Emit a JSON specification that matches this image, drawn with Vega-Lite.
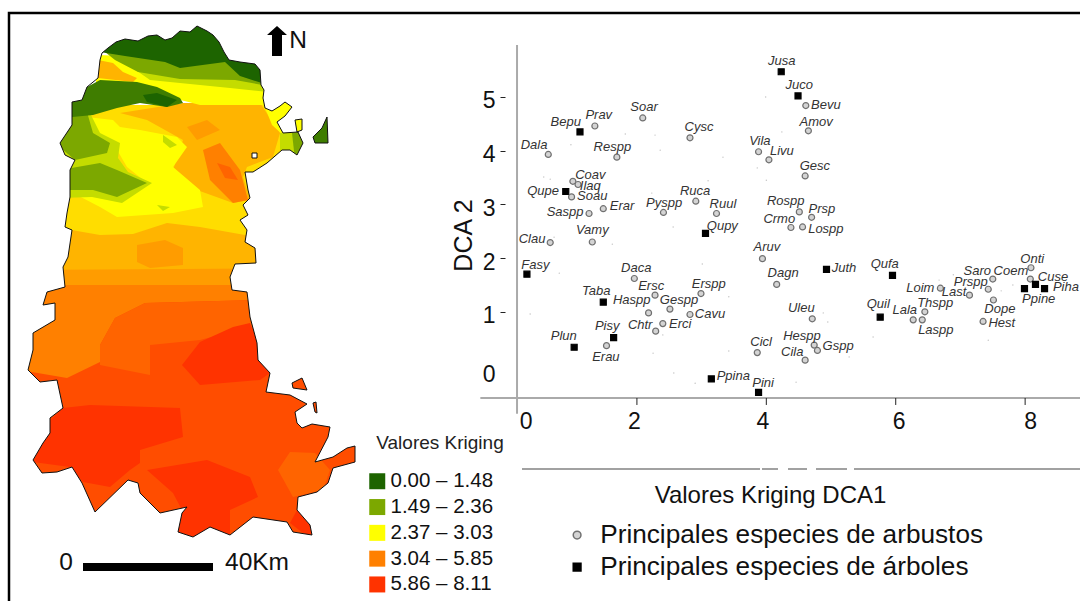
{
"$schema":"https://vega.github.io/schema/vega-lite/v6.json",
"width":573,"height":353,
"autosize":{"type":"none"},
"padding":{"left":507,"top":45,"right":0,"bottom":203},
"background":"white",
"config":{"font":"Liberation Sans","view":{"stroke":null},"axis":{"grid":false}},
"datasets":{
"zonas":[
{"type":"Feature","properties":{"clase":"ambar"},"geometry":{"type":"Polygon","coordinates":[[[20,200],[362,200],[362,290],[20,290],[20,200]]]}},
{"type":"Feature","properties":{"clase":"ambar oscuro"},"geometry":{"type":"Polygon","coordinates":[[[20,270],[362,268],[362,295],[20,295],[20,270]]]}},
{"type":"Feature","properties":{"clase":"ambar oscuro"},"geometry":{"type":"Polygon","coordinates":[[[137,245],[165,240],[183,248],[183,265],[150,268],[137,262],[137,245]]]}},
{"type":"Feature","properties":{"clase":"rojo naranja"},"geometry":{"type":"Polygon","coordinates":[[[20,292],[362,292],[362,601],[20,601],[20,292]]]}},
{"type":"Feature","properties":{"clase":"3.04 – 5.85"},"geometry":{"type":"Polygon","coordinates":[[[20,285],[255,285],[255,300],[145,303],[115,318],[100,345],[100,362],[67,378],[20,370],[20,285]]]}},
{"type":"Feature","properties":{"clase":"naranja rojizo"},"geometry":{"type":"Polygon","coordinates":[[[145,303],[255,300],[258,325],[200,340],[150,345],[150,375],[100,365],[100,345],[115,318],[145,303]]]}},
{"type":"Feature","properties":{"clase":"5.86 – 8.11"},"geometry":{"type":"Polygon","coordinates":[[[182,365],[200,342],[233,327],[250,323],[260,347],[270,373],[260,380],[200,385],[182,365]]]}},
{"type":"Feature","properties":{"clase":"5.86 – 8.11"},"geometry":{"type":"Polygon","coordinates":[[[50,420],[63,408],[90,405],[180,408],[183,437],[140,450],[140,463],[130,470],[110,487],[83,482],[70,467],[33,462],[50,420]]]}},
{"type":"Feature","properties":{"clase":"5.86 – 8.11"},"geometry":{"type":"Polygon","coordinates":[[[147,470],[207,460],[250,477],[258,497],[230,510],[230,540],[170,540],[182,510],[173,493],[147,470]]]}},
{"type":"Feature","properties":{"clase":"5.86 – 8.11"},"geometry":{"type":"Polygon","coordinates":[[[290,523],[312,540],[315,525],[297,510],[290,523]]]}},
{"type":"Feature","properties":{"clase":"naranja rojizo"},"geometry":{"type":"Polygon","coordinates":[[[278,470],[290,452],[315,453],[330,470],[323,490],[293,497],[278,470]]]}},
{"type":"Feature","properties":{"clase":"oro"},"geometry":{"type":"Polygon","coordinates":[[[20,105],[310,105],[310,235],[245,235],[200,227],[167,223],[133,234],[100,235],[60,228],[20,228],[20,105]]]}},
{"type":"Feature","properties":{"clase":"ambar"},"geometry":{"type":"Polygon","coordinates":[[[120,113],[183,103],[260,103],[280,133],[273,157],[247,167],[243,177],[250,200],[233,203],[197,190],[173,170],[183,140],[147,120],[120,113]]]}},
{"type":"Feature","properties":{"clase":"ambar oscuro"},"geometry":{"type":"Polygon","coordinates":[[[187,127],[207,120],[220,130],[197,140],[187,127]]]}},
{"type":"Feature","properties":{"clase":"3.04 – 5.85"},"geometry":{"type":"Polygon","coordinates":[[[203,150],[220,143],[240,170],[248,200],[233,203],[210,180],[203,150]]]}},
{"type":"Feature","properties":{"clase":"naranja rojizo"},"geometry":{"type":"Polygon","coordinates":[[[217,163],[230,167],[238,180],[225,178],[217,163]]]}},
{"type":"Feature","properties":{"clase":"2.37 – 3.03"},"geometry":{"type":"Polygon","coordinates":[[[87,117],[113,120],[120,127],[140,130],[177,137],[187,147],[173,167],[200,190],[203,207],[173,213],[117,217],[100,207],[73,193],[110,197],[147,183],[127,167],[113,143],[87,133],[87,117]]]}},
{"type":"Feature","properties":{"clase":"lima"},"geometry":{"type":"Polygon","coordinates":[[[60,113],[90,113],[100,133],[120,143],[118,158],[128,172],[152,183],[122,203],[92,197],[60,198],[60,113]]]}},
{"type":"Feature","properties":{"clase":"1.49 – 2.36"},"geometry":{"type":"Polygon","coordinates":[[[60,170],[100,163],[117,170],[147,183],[117,197],[93,190],[60,190],[60,170]]]}},
{"type":"Feature","properties":{"clase":"1.49 – 2.36"},"geometry":{"type":"Polygon","coordinates":[[[55,143],[68,112],[87,112],[93,133],[110,143],[107,153],[75,160],[55,143]]]}},
{"type":"Feature","properties":{"clase":"lima"},"geometry":{"type":"Polygon","coordinates":[[[163,135],[177,145],[170,148],[163,142],[163,135]]]}},
{"type":"Feature","properties":{"clase":"lima"},"geometry":{"type":"Polygon","coordinates":[[[157,205],[170,207],[163,211],[157,205]]]}},
{"type":"Feature","properties":{"clase":"2.37 – 3.03"},"geometry":{"type":"Polygon","coordinates":[[[96,55],[268,60],[268,105],[200,105],[150,92],[130,84],[96,84],[96,55]]]}},
{"type":"Feature","properties":{"clase":"ambar"},"geometry":{"type":"Polygon","coordinates":[[[98,60],[113,63],[123,72],[137,78],[133,82],[98,78],[98,60]]]}},
{"type":"Feature","properties":{"clase":"lima"},"geometry":{"type":"Polygon","coordinates":[[[130,66],[268,66],[268,92],[230,88],[190,84],[150,80],[130,66]]]}},
{"type":"Feature","properties":{"clase":"1.49 – 2.36"},"geometry":{"type":"Polygon","coordinates":[[[105,52],[268,58],[268,86],[235,80],[180,79],[138,72],[115,60],[105,52]]]}},
{"type":"Feature","properties":{"clase":"0.00 – 1.48"},"geometry":{"type":"Polygon","coordinates":[[[90,20],[272,20],[268,85],[240,76],[225,62],[180,68],[165,62],[125,56],[100,52],[90,20]]]}},
{"type":"Feature","properties":{"clase":"verde medio"},"geometry":{"type":"Polygon","coordinates":[[[62,102],[87,87],[100,80],[137,82],[157,87],[180,98],[183,103],[167,107],[140,103],[117,108],[93,115],[62,118],[62,102]]]}},
{"type":"Feature","properties":{"clase":"0.00 – 1.48"},"geometry":{"type":"Polygon","coordinates":[[[143,95],[157,93],[177,100],[167,107],[147,102],[143,95]]]}},
{"type":"Feature","properties":{"clase":"2.37 – 3.03"},"geometry":{"type":"Polygon","coordinates":[[[262,100],[305,100],[305,133],[283,135],[272,125],[262,100]]]}},
{"type":"Feature","properties":{"clase":"lima"},"geometry":{"type":"Polygon","coordinates":[[[280,133],[308,130],[308,160],[290,160],[280,150],[280,133]]]}},
{"type":"Feature","properties":{"clase":"1.49 – 2.36"},"geometry":{"type":"Polygon","coordinates":[[[292,133],[308,130],[308,160],[295,160],[292,133]]]}},
{"type":"Feature","properties":{"clase":"verde medio"},"geometry":{"type":"Polygon","coordinates":[[[310,112],[332,112],[332,148],[310,148],[310,112]]]}}
],
"mascara":[
{"type":"Feature","properties":{"nombre":"fuera de la provincia"},"geometry":{"type":"Polygon","coordinates":[
[[10,14],[10,601],[362,601],[362,14],[10,14]],
[[102,53],[108,48],[116,42],[125,39],[138,41],[148,36],[157,35],[165,40],[172,38],[180,31],[190,32],[197,26],[207,31],[213,35],[219,42],[224,52],[229,60],[240,62],[255,64],[260,70],[261,85],[264,90],[263,98],[265,108],[272,111],[280,106],[285,102],[292,107],[285,116],[277,122],[283,133],[298,132],[303,143],[297,155],[290,150],[282,150],[267,163],[253,172],[245,172],[248,190],[250,198],[243,205],[248,215],[240,220],[247,230],[245,242],[255,248],[256,263],[235,264],[230,277],[232,290],[247,292],[248,300],[250,317],[257,343],[258,360],[270,373],[266,392],[290,395],[307,404],[295,412],[297,423],[302,428],[312,424],[330,427],[328,437],[315,462],[333,457],[347,448],[355,446],[355,462],[333,468],[328,483],[317,492],[298,497],[297,510],[310,525],[312,535],[293,532],[287,522],[253,517],[230,535],[210,527],[193,537],[178,532],[182,513],[187,507],[160,513],[140,493],[138,483],[128,480],[95,512],[82,483],[72,467],[57,472],[42,473],[33,460],[43,443],[50,433],[50,418],[63,408],[57,380],[40,382],[28,370],[33,350],[33,333],[55,320],[55,303],[43,305],[47,292],[65,287],[63,267],[68,257],[72,230],[65,227],[67,213],[70,197],[70,170],[75,160],[65,155],[60,143],[72,125],[72,102],[82,100],[87,87],[98,78],[100,60],[102,53]],
[[295,120],[302,119],[302,130],[297,132],[295,120]],
[[313,137],[322,128],[327,117],[328,143],[315,143],[313,137]],
[[292,383],[302,378],[307,390],[293,388],[292,383]],
[[313,403],[316,402],[317,413],[315,412],[313,403]]
]}},
{"type":"Feature","properties":{"nombre":"hueco"},"geometry":{"type":"Polygon","coordinates":[[[252,153],[257,153],[257,158],[252,158],[252,153]]]}}
],
"contorno":[
{"type":"Feature","properties":{"nombre":"límite"},"geometry":{"type":"Polygon","coordinates":[
[[102,53],[108,48],[116,42],[125,39],[138,41],[148,36],[157,35],[165,40],[172,38],[180,31],[190,32],[197,26],[207,31],[213,35],[219,42],[224,52],[229,60],[240,62],[255,64],[260,70],[261,85],[264,90],[263,98],[265,108],[272,111],[280,106],[285,102],[292,107],[285,116],[277,122],[283,133],[298,132],[303,143],[297,155],[290,150],[282,150],[267,163],[253,172],[245,172],[248,190],[250,198],[243,205],[248,215],[240,220],[247,230],[245,242],[255,248],[256,263],[235,264],[230,277],[232,290],[247,292],[248,300],[250,317],[257,343],[258,360],[270,373],[266,392],[290,395],[307,404],[295,412],[297,423],[302,428],[312,424],[330,427],[328,437],[315,462],[333,457],[347,448],[355,446],[355,462],[333,468],[328,483],[317,492],[298,497],[297,510],[310,525],[312,535],[293,532],[287,522],[253,517],[230,535],[210,527],[193,537],[178,532],[182,513],[187,507],[160,513],[140,493],[138,483],[128,480],[95,512],[82,483],[72,467],[57,472],[42,473],[33,460],[43,443],[50,433],[50,418],[63,408],[57,380],[40,382],[28,370],[33,350],[33,333],[55,320],[55,303],[43,305],[47,292],[65,287],[63,267],[68,257],[72,230],[65,227],[67,213],[70,197],[70,170],[75,160],[65,155],[60,143],[72,125],[72,102],[82,100],[87,87],[98,78],[100,60],[102,53]],
[[295,120],[302,119],[302,130],[297,132],[295,120]],
[[313,137],[322,128],[327,117],[328,143],[315,143],[313,137]],
[[292,383],[302,378],[307,390],[293,388],[292,383]],
[[313,403],[316,402],[317,413],[315,412],[313,403]],
[[252,153],[257,153],[257,158],[252,158],[252,153]]
]}}
],
"lineas":[
{"type":"Feature","properties":{"nombre":"marco"},"geometry":{"type":"LineString","coordinates":[[9,601],[9,13],[1080,13]]}}
],
"corte":[
{"type":"Feature","properties":{"nombre":"línea inferior"},"geometry":{"type":"MultiLineString","coordinates":[[[522,469],[760,469]],[[762,469],[778,469]],[[788,469],[807,469]],[[816,469],[847,469]],[[854,469],[1080,469]]]}}
],
"simbolos":[
{"type":"Feature","properties":{"nombre":"flecha norte"},"geometry":{"type":"Polygon","coordinates":[[[267,35],[277,26],[287,35],[282,35],[282,56],[272,56],[272,35],[267,35]]]}},
{"type":"Feature","properties":{"nombre":"barra de escala"},"geometry":{"type":"Polygon","coordinates":[[[83,563],[213,563],[213,571],[83,571],[83,563]]]}}
],
"rotulos":[
{"texto":"N","lon":298,"lat":41},
{"texto":"0","lon":66,"lat":563},
{"texto":"40Km","lon":257,"lat":563}
],
"titulo_leyenda":[
{"texto":"Valores Kriging","lon":440,"lat":443}
],
"especies":[
{"especie":"Jusa","tipo":"Principales  especies de árboles","dca1":4.23,"dca2":5.47,"et1":4.24,"et2":5.67},
{"especie":"Juco","tipo":"Principales  especies de árboles","dca1":4.49,"dca2":5.02,"et1":4.51,"et2":5.23},
{"especie":"Bevu","tipo":"Principales especies de arbustos","dca1":4.61,"dca2":4.84,"et1":4.92,"et2":4.85},
{"especie":"Amov","tipo":"Principales especies de arbustos","dca1":4.65,"dca2":4.37,"et1":4.77,"et2":4.53},
{"especie":"Vila","tipo":"Principales especies de arbustos","dca1":3.88,"dca2":3.98,"et1":3.90,"et2":4.18},
{"especie":"Livu","tipo":"Principales especies de arbustos","dca1":4.04,"dca2":3.83,"et1":4.24,"et2":3.99},
{"especie":"Gesc","tipo":"Principales especies de arbustos","dca1":4.60,"dca2":3.53,"et1":4.75,"et2":3.72},
{"especie":"Rospp","tipo":"Principales especies de arbustos","dca1":4.51,"dca2":2.86,"et1":4.30,"et2":3.06},
{"especie":"Prsp","tipo":"Principales especies de arbustos","dca1":4.70,"dca2":2.76,"et1":4.86,"et2":2.91},
{"especie":"Crmo","tipo":"Principales especies de arbustos","dca1":4.38,"dca2":2.57,"et1":4.20,"et2":2.73},
{"especie":"Lospp","tipo":"Principales especies de arbustos","dca1":4.56,"dca2":2.58,"et1":4.92,"et2":2.54},
{"especie":"Aruv","tipo":"Principales especies de arbustos","dca1":3.94,"dca2":1.99,"et1":4.01,"et2":2.21},
{"especie":"Dagn","tipo":"Principales especies de arbustos","dca1":4.16,"dca2":1.51,"et1":4.26,"et2":1.73},
{"especie":"Juth","tipo":"Principales  especies de árboles","dca1":4.93,"dca2":1.79,"et1":5.20,"et2":1.81},
{"especie":"Qufa","tipo":"Principales  especies de árboles","dca1":5.95,"dca2":1.68,"et1":5.83,"et2":1.89},
{"especie":"Quil","tipo":"Principales  especies de árboles","dca1":5.76,"dca2":0.90,"et1":5.73,"et2":1.15},
{"especie":"Uleu","tipo":"Principales especies de arbustos","dca1":4.71,"dca2":0.87,"et1":4.54,"et2":1.07},
{"especie":"Hespp","tipo":"Principales especies de arbustos","dca1":4.74,"dca2":0.38,"et1":4.55,"et2":0.55},
{"especie":"Gspp","tipo":"Principales especies de arbustos","dca1":4.79,"dca2":0.28,"et1":5.11,"et2":0.36},
{"especie":"Cila","tipo":"Principales especies de arbustos","dca1":4.60,"dca2":0.10,"et1":4.40,"et2":0.25},
{"especie":"Cicl","tipo":"Principales especies de arbustos","dca1":3.86,"dca2":0.24,"et1":3.92,"et2":0.44},
{"especie":"Pini","tipo":"Principales  especies de árboles","dca1":3.88,"dca2":-0.50,"et1":3.95,"et2":-0.33},
{"especie":"Ppina","tipo":"Principales  especies de árboles","dca1":3.15,"dca2":-0.25,"et1":3.49,"et2":-0.20},
{"especie":"Loim","tipo":"Principales especies de arbustos","dca1":6.69,"dca2":1.44,"et1":6.38,"et2":1.44},
{"especie":"Last","tipo":"Principales especies de arbustos","dca1":7.14,"dca2":1.31,"et1":6.90,"et2":1.37},
{"especie":"Lala","tipo":"Principales especies de arbustos","dca1":6.27,"dca2":0.85,"et1":6.14,"et2":1.03},
{"especie":"Thspp","tipo":"Principales especies de arbustos","dca1":6.45,"dca2":1.00,"et1":6.61,"et2":1.16},
{"especie":"Laspp","tipo":"Principales especies de arbustos","dca1":6.41,"dca2":0.85,"et1":6.62,"et2":0.66},
{"especie":"Prspp","tipo":"Principales especies de arbustos","dca1":7.43,"dca2":1.42,"et1":7.16,"et2":1.55},
{"especie":"Saro","tipo":"Principales especies de arbustos","dca1":7.50,"dca2":1.61,"et1":7.26,"et2":1.76},
{"especie":"Onti","tipo":"Principales especies de arbustos","dca1":8.09,"dca2":1.82,"et1":8.11,"et2":1.98},
{"especie":"Coem","tipo":"Principales especies de arbustos","dca1":8.08,"dca2":1.61,"et1":7.78,"et2":1.76},
{"especie":"Cuse","tipo":"Principales  especies de árboles","dca1":8.16,"dca2":1.51,"et1":8.43,"et2":1.65},
{"especie":"Piha","tipo":"Principales  especies de árboles","dca1":8.30,"dca2":1.43,"et1":8.63,"et2":1.46},
{"especie":"Ppine","tipo":"Principales  especies de árboles","dca1":7.99,"dca2":1.43,"et1":8.21,"et2":1.24},
{"especie":"Dope","tipo":"Principales especies de arbustos","dca1":7.51,"dca2":1.22,"et1":7.61,"et2":1.05},
{"especie":"Hest","tipo":"Principales especies de arbustos","dca1":7.35,"dca2":0.82,"et1":7.64,"et2":0.79},
{"especie":"Bepu","tipo":"Principales  especies de árboles","dca1":1.12,"dca2":4.35,"et1":0.90,"et2":4.53},
{"especie":"Prav","tipo":"Principales especies de arbustos","dca1":1.35,"dca2":4.46,"et1":1.41,"et2":4.66},
{"especie":"Soar","tipo":"Principales especies de arbustos","dca1":2.09,"dca2":4.61,"et1":2.11,"et2":4.81},
{"especie":"Cysc","tipo":"Principales especies de arbustos","dca1":2.82,"dca2":4.24,"et1":2.96,"et2":4.44},
{"especie":"Dala","tipo":"Principales especies de arbustos","dca1":0.63,"dca2":3.93,"et1":0.41,"et2":4.11},
{"especie":"Respp","tipo":"Principales especies de arbustos","dca1":1.69,"dca2":3.88,"et1":1.62,"et2":4.07},
{"especie":"Coav","tipo":"Principales especies de arbustos","dca1":1.01,"dca2":3.43,"et1":1.28,"et2":3.55},
{"especie":"Ilaq","tipo":"Principales especies de arbustos","dca1":1.09,"dca2":3.37,"et1":1.28,"et2":3.34},
{"especie":"Qupe","tipo":"Principales  especies de árboles","dca1":0.90,"dca2":3.24,"et1":0.55,"et2":3.25},
{"especie":"Soau","tipo":"Principales especies de arbustos","dca1":0.99,"dca2":3.14,"et1":1.31,"et2":3.16},
{"especie":"Saspp","tipo":"Principales especies de arbustos","dca1":1.26,"dca2":2.83,"et1":0.89,"et2":2.86},
{"especie":"Erar","tipo":"Principales especies de arbustos","dca1":1.48,"dca2":2.92,"et1":1.77,"et2":2.97},
{"especie":"Pyspp","tipo":"Principales especies de arbustos","dca1":2.41,"dca2":2.85,"et1":2.42,"et2":3.03},
{"especie":"Ruca","tipo":"Principales especies de arbustos","dca1":2.91,"dca2":3.06,"et1":2.90,"et2":3.25},
{"especie":"Ruul","tipo":"Principales especies de arbustos","dca1":3.23,"dca2":2.83,"et1":3.33,"et2":3.01},
{"especie":"Qupy","tipo":"Principales  especies de árboles","dca1":3.06,"dca2":2.46,"et1":3.32,"et2":2.60},
{"especie":"Clau","tipo":"Principales especies de arbustos","dca1":0.66,"dca2":2.29,"et1":0.38,"et2":2.36},
{"especie":"Vamy","tipo":"Principales especies de arbustos","dca1":1.31,"dca2":2.30,"et1":1.31,"et2":2.52},
{"especie":"Fasy","tipo":"Principales  especies de árboles","dca1":0.30,"dca2":1.70,"et1":0.43,"et2":1.87},
{"especie":"Daca","tipo":"Principales especies de arbustos","dca1":1.96,"dca2":1.62,"et1":1.99,"et2":1.82},
{"especie":"Ersc","tipo":"Principales especies de arbustos","dca1":2.28,"dca2":1.31,"et1":2.22,"et2":1.48},
{"especie":"Erspp","tipo":"Principales especies de arbustos","dca1":2.99,"dca2":1.34,"et1":3.11,"et2":1.52},
{"especie":"Gespp","tipo":"Principales especies de arbustos","dca1":2.51,"dca2":1.05,"et1":2.65,"et2":1.22},
{"especie":"Haspp","tipo":"Principales especies de arbustos","dca1":2.18,"dca2":0.98,"et1":1.92,"et2":1.22},
{"especie":"Cavu","tipo":"Principales especies de arbustos","dca1":2.82,"dca2":0.95,"et1":3.13,"et2":0.96},
{"especie":"Erci","tipo":"Principales especies de arbustos","dca1":2.40,"dca2":0.78,"et1":2.67,"et2":0.77},
{"especie":"Chtr","tipo":"Principales especies de arbustos","dca1":2.29,"dca2":0.64,"et1":2.05,"et2":0.75},
{"especie":"Taba","tipo":"Principales  especies de árboles","dca1":1.48,"dca2":1.18,"et1":1.37,"et2":1.39},
{"especie":"Pisy","tipo":"Principales  especies de árboles","dca1":1.64,"dca2":0.52,"et1":1.54,"et2":0.74},
{"especie":"Plun","tipo":"Principales  especies de árboles","dca1":1.03,"dca2":0.34,"et1":0.87,"et2":0.55},
{"especie":"Erau","tipo":"Principales especies de arbustos","dca1":1.53,"dca2":0.37,"et1":1.52,"et2":0.16}
],
"menores":[
{"dca1":3.99,"dca2":5.00},{"dca1":4.24,"dca2":4.35},{"dca1":1.82,"dca2":4.31},{"dca1":2.28,"dca2":4.29},{"dca1":2.36,"dca2":4.01},{"dca1":3.33,"dca2":3.88},{"dca1":0.98,"dca2":4.11},{"dca1":0.56,"dca2":3.51},{"dca1":0.66,"dca2":3.47},{"dca1":3.86,"dca2":3.68},{"dca1":4.00,"dca2":3.45},{"dca1":3.10,"dca2":3.44},{"dca1":2.23,"dca2":3.21},{"dca1":2.56,"dca2":2.58},{"dca1":1.62,"dca2":2.26},{"dca1":0.72,"dca2":2.39},{"dca1":0.80,"dca2":1.72},{"dca1":0.35,"dca2":0.96},{"dca1":3.01,"dca2":1.89},{"dca1":3.42,"dca2":1.28},{"dca1":2.40,"dca2":0.57},{"dca1":2.25,"dca2":0.23},{"dca1":3.42,"dca2":0.27},{"dca1":2.57,"dca2":-0.14},{"dca1":2.90,"dca2":-0.33},{"dca1":4.46,"dca2":-0.31},{"dca1":6.67,"dca2":1.59},{"dca1":6.89,"dca2":1.69},{"dca1":7.63,"dca2":1.39},{"dca1":7.81,"dca2":1.50},{"dca1":7.43,"dca2":0.47},{"dca1":5.65,"dca2":0.53},{"dca1":4.95,"dca2":0.81},{"dca1":4.88,"dca2":0.98},{"dca1":5.28,"dca2":0.16}
],
"uno":[{"marca":"eje"}],
"marcas_x":[{"dca1":2},{"dca1":4},{"dca1":6},{"dca1":8}]
},
"layer":[
 {"data":{"name":"zonas"},"mark":{"type":"geoshape","strokeWidth":0,"clip":false},
  "projection":{"type":"identity","scale":1,"translate":[-507,-45]},
  "encoding":{"color":{"field":"properties.clase","type":"nominal",
    "scale":{"domain":["0.00 – 1.48","1.49 – 2.36","2.37 – 3.03","3.04 – 5.85","5.86 – 8.11","verde medio","lima","oro","ambar","ambar oscuro","naranja rojizo","rojo naranja"],
             "range":["#1d6400","#7ca800","#ffff00","#ff8000","#ff3300","#3f7d00","#c4dc00","#ffdd00","#ffb400","#ff9c00","#ff6400","#ff4d00"]},
    "legend":{"title":null,"values":["0.00 – 1.48","1.49 – 2.36","2.37 – 3.03","3.04 – 5.85","5.86 – 8.11"],
      "orient":"none","legendX":-140,"legendY":426,"padding":0,"symbolType":"square","symbolSize":256,"symbolStrokeWidth":0,"symbolOpacity":1,
      "labelFontSize":20.5,"labelColor":"#111","labelOffset":3,"labelLimit":300,"rowPadding":4.8}}}},
 {"data":{"name":"mascara"},"mark":{"type":"geoshape","fill":"white","stroke":null,"clip":false},
  "projection":{"type":"identity","scale":1,"translate":[-507,-45]},"encoding":{}},
 {"data":{"name":"contorno"},"mark":{"type":"geoshape","filled":false,"stroke":"#111","strokeWidth":1,"clip":false},
  "projection":{"type":"identity","scale":1,"translate":[-507,-45]},"encoding":{}},
 {"data":{"name":"lineas"},"mark":{"type":"geoshape","filled":false,"stroke":"#000","strokeWidth":2.5,"clip":false},
  "projection":{"type":"identity","scale":1,"translate":[-507,-45]},"encoding":{}},
 {"data":{"name":"corte"},"mark":{"type":"geoshape","filled":false,"stroke":"#444","strokeWidth":1.2,"clip":false},
  "projection":{"type":"identity","scale":1,"translate":[-507,-45]},"encoding":{}},
 {"data":{"name":"simbolos"},"mark":{"type":"geoshape","fill":"#000","stroke":null,"clip":false},
  "projection":{"type":"identity","scale":1,"translate":[-507,-45]},"encoding":{}},
 {"data":{"name":"rotulos"},"mark":{"type":"text","fontSize":24.5,"color":"#111","align":"center","baseline":"middle","clip":false},
  "projection":{"type":"identity","scale":1,"translate":[-507,-45]},
  "encoding":{"longitude":{"field":"lon","type":"quantitative"},"latitude":{"field":"lat","type":"quantitative"},"text":{"field":"texto"}}},
 {"data":{"name":"titulo_leyenda"},"mark":{"type":"text","fontSize":19,"color":"#222","align":"center","baseline":"middle","clip":false},
  "projection":{"type":"identity","scale":1,"translate":[-507,-45]},
  "encoding":{"longitude":{"field":"lon","type":"quantitative"},"latitude":{"field":"lat","type":"quantitative"},"text":{"field":"texto"}}},
 {"data":{"name":"uno"},"mark":{"type":"rule","color":"#aaa","strokeWidth":2},
  "encoding":{"x":{"datum":0.147,"type":"quantitative"},"y":{"datum":-0.9,"type":"quantitative"},"y2":{"datum":5.968}}},
 {"data":{"name":"uno"},"mark":{"type":"rule","color":"#aaa","strokeWidth":2},
  "encoding":{"y":{"datum":-0.605,"type":"quantitative"},"x":{"datum":-0.42,"type":"quantitative"},"x2":{"datum":8.848}}},
 {"data":{"name":"marcas_x"},"mark":{"type":"rule","color":"#222","strokeWidth":1},
  "encoding":{"x":{"field":"dca1","type":"quantitative"},"y":{"datum":-0.605,"type":"quantitative"},"y2":{"datum":-0.735}}},
 {"data":{"name":"menores"},"mark":{"type":"point","filled":true,"size":2,"color":"#aaa","opacity":0.7},
  "encoding":{"x":{"field":"dca1","type":"quantitative"},"y":{"field":"dca2","type":"quantitative"}}},
 {"data":{"name":"especies"},"mark":{"type":"point","filled":true,"size":36,"strokeWidth":1.2,"opacity":1},
  "encoding":{
   "x":{"field":"dca1","type":"quantitative","scale":{"domain":[-0.008,8.848],"nice":false,"zero":false},
     "axis":{"values":[0,2,4,6,8],"format":"d","domain":false,"ticks":false,"labelFontSize":23,"labelColor":"#111","labelPadding":12,"labelFlush":false,"labelOverlap":false,
       "labelOffset":{"expr":"datum.value==0?18:datum.value==2?-3:datum.value==4?-4:datum.value==6?3:5"},
       "title":"Valores Kriging DCA1","titleFontSize":24,"titleFontWeight":"normal","titleColor":"#111","titleX":263,"titleY":97,"titleBaseline":"middle"}},
   "y":{"field":"dca2","type":"quantitative","scale":{"domain":[-0.605,5.968],"nice":false,"zero":false},
     "axis":{"values":[0,1,2,3,4,5],"format":"d","domain":false,"offset":2,"tickSize":5,"tickColor":{"condition":{"test":"datum.value==0","value":"transparent"},"value":"#222"},
       "labelFontSize":23,"labelColor":"#111","labelPadding":5,"labelFlush":false,"labelOverlap":false,
       "labelOffset":{"expr":"datum.value==0?9:4"},
       "title":"DCA 2","titleFontSize":25,"titleFontWeight":"normal","titleColor":"#111","titleX":-42,"titleY":190,"titleBaseline":"middle","titleAngle":270}},
   "shape":{"field":"tipo","type":"nominal","scale":{"domain":["Principales especies de arbustos","Principales  especies de árboles"],"range":["circle","square"]},
     "legend":{"title":null,"orient":"none","legendX":57,"legendY":477,"padding":0,"symbolSize":60,"labelFontSize":26.2,"labelColor":"#111","labelOffset":10,"labelLimit":600,"rowPadding":5}},
   "fill":{"field":"tipo","type":"nominal","scale":{"domain":["Principales especies de arbustos","Principales  especies de árboles"],"range":["#d4d4d4","#000000"]},
     "legend":{"title":null,"orient":"none","legendX":57,"legendY":477,"padding":0,"symbolSize":60,"labelFontSize":26.2,"labelColor":"#111","labelOffset":10,"labelLimit":600,"rowPadding":5}},
   "stroke":{"field":"tipo","type":"nominal","scale":{"domain":["Principales especies de arbustos","Principales  especies de árboles"],"range":["#707070","#000000"]},
     "legend":{"title":null,"orient":"none","legendX":57,"legendY":477,"padding":0,"symbolSize":60,"labelFontSize":26.2,"labelColor":"#111","labelOffset":10,"labelLimit":600,"rowPadding":5}}
  }},
 {"data":{"name":"especies"},"mark":{"type":"text","fontSize":13,"fontStyle":"italic","color":"#333","align":"center","baseline":"middle"},
  "encoding":{"x":{"field":"et1","type":"quantitative"},"y":{"field":"et2","type":"quantitative"},"text":{"field":"especie"}}}
]
}
